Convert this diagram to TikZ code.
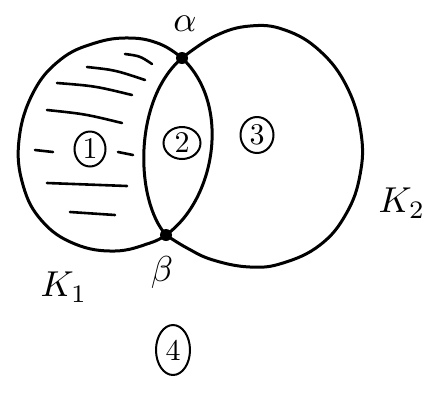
\documentclass[tikz,border=0pt]{standalone}
\usepackage{graphicx}
\usetikzlibrary{shapes.geometric}
\tikzset{
  curve/.style={line width=3pt, line cap=round, line join=round},
  hatch/.style={line width=2.6pt, line cap=round},
  vertex/.style={circle, fill=black, inner sep=0pt, minimum size=12pt},
  region/.style={ellipse, draw, line width=2pt, inner sep=0pt},
  lab/.style={inner sep=0pt}
}
\newcommand{\bigdigit}[1]{\scalebox{3}{#1}}
\newcommand{\biglab}[1]{\scalebox{3.6}{#1}}
\begin{document}
\begin{tikzpicture}[x=1pt,y=-1pt]
\useasboundingbox (0,0) rectangle (425,392);
\coordinate (al) at (182,58);
\coordinate (be) at (166,235);
% K1 outer arc
\draw[curve] plot[smooth, tension=0.7] coordinates {(182,58) (160,44) (130,38) (95,43) (60,60) (33,93) (19,140) (23,185) (42,221) (75,244) (115,251) (150,243) (166,235)};
% K1 inner arc (right side of lens)
\draw[curve] (be) .. controls (215,200) and (232,105) .. (al);
% K2 outer arc
\draw[curve] plot[smooth, tension=0.7] coordinates {(182,58) (215,36) (250,26) (285,30) (320,51) (347,87) (361,133) (360,175) (346,214) (320,245) (283,263) (250,267) (213,260) (187,248) (166,235)};
% K2 inner arc (left side of lens)
\draw[curve] (be) .. controls (135,200) and (133,100) .. (al);
% hatching of region 1
\draw[hatch] (125,54) .. controls (140,56) .. (152,64);
\draw[hatch] (87,67) .. controls (115,70) .. (145,80);
\draw[hatch] (57,83) .. controls (95,86) .. (132,95);
\draw[hatch] (47,110) .. controls (85,114) .. (122,123);
\draw[hatch] (35,150) -- (53,152);
\draw[hatch] (118,152) -- (133,155);
\draw[hatch] (47,183) -- (127,186);
\draw[hatch] (70,212) -- (115,215);
% vertices
\node[vertex] (alpha) at (al) {};
\node[vertex] (beta) at (be) {};
% labels
\node[lab] (alab) at (185,24) {\biglab{$\alpha$}};
\node[lab] (blab) at (162,272) {\biglab{$\beta$}};
\node[lab] (k1) at (64,287) {\biglab{$K_1$}};
\node[lab] (k2) at (402,203) {\biglab{$K_2$}};
% regions
\node[region, minimum width=31pt, minimum height=35pt] (r1) at (90,149) {\bigdigit{1}};
\node[region, minimum width=37pt, minimum height=32pt] (r2) at (182,143) {\bigdigit{2}};
\node[region, minimum width=33pt, minimum height=36pt] (r3) at (257,135) {\bigdigit{3}};
\node[region, minimum width=34pt, minimum height=50pt] (r4) at (173,350) {\bigdigit{4}};
\end{tikzpicture}
\end{document}
